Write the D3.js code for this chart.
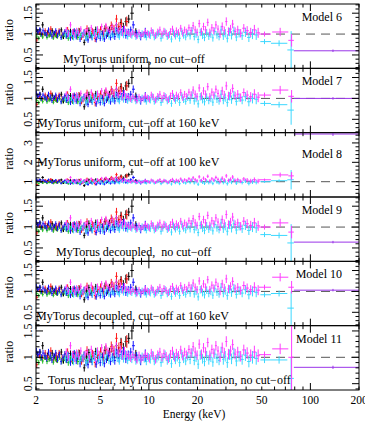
<!DOCTYPE html>
<html>
<head>
<meta charset="utf-8">
<script src="https://cdn.jsdelivr.net/npm/d3@7"></script>
<style>
  body { margin: 0; background: #fff; }
  text { font-family: "Liberation Serif", "Times New Roman", serif; fill: #000; }
</style>
</head>
<body>
<div id="chart"></div>
<script>
// Panel labels and captions
const models = ["Model 6", "Model 7", "Model 8", "Model 9", "Model 10", "Model 11"];
const captions = [
  "MyTorus uniform, no cut\u2212off",
  "MyTorus uniform, cut\u2212off at 160 keV",
  "MyTorus uniform, cut\u2212off at 100 keV",
  "MyTorus decoupled,  no cut\u2212off",
  "MyTorus decoupled, cut\u2212off at 160 keV",
  "Torus nuclear, MyTorus contamination, no cut\u2212off"
];
const yDomains = [[0.18, 1.72], [0.18, 1.72], [0.21, 3.53], [0.18, 1.72], [0.18, 1.72], [0.38, 1.6]];
const yTickLabels = [["0.5", "1", "1.5"], ["0.5", "1", "1.5"], ["1", "2", "3"], ["0.5", "1", "1.5"], ["0.5", "1", "1.5"], ["0.5", "1", "1.5"]];
const xTickLabels = [2, 5, 10, 20, 50, 100, 200];

// Residuals (energy keV, data/model ratio, 1-sigma error)
const blackE = [2.04,2.12,2.2,2.28,2.36,2.44,2.52,2.6,2.69,2.78,2.87,2.96,3.06,3.16,3.27,3.38,3.49,3.61,3.73,3.85,3.98,4.11,4.25,4.39,4.54,4.69,4.85,5.01,5.18,5.35,5.53,5.71,5.9,6.1,6.3,6.5,6.72,6.95,7.2,7.5,7.85,8.3];
const blackR = [1.06,1.1,1.22,1.0,1.04,0.98,1.08,1.02,0.96,1.05,1.1,0.94,1.03,0.99,1.07,0.93,1.04,1.0,1.08,0.97,0.8,1.02,1.09,0.96,1.04,1.11,0.98,1.06,1.02,1.13,1.0,1.1,1.17,1.06,1.22,1.12,1.28,1.18,1.3,1.36,1.5,1.04];
const blackErr = [0.05,0.05,0.07,0.05,0.05,0.05,0.06,0.05,0.06,0.05,0.06,0.06,0.05,0.06,0.06,0.06,0.07,0.06,0.06,0.06,0.07,0.06,0.07,0.06,0.07,0.07,0.07,0.07,0.07,0.08,0.07,0.08,0.08,0.08,0.09,0.08,0.09,0.09,0.1,0.1,0.16,0.1];

const redE = [2.02,2.1,2.19,2.28,2.37,2.47,2.57,2.67,2.78,2.9,3.02,3.14,3.27,3.4,3.54,3.68,3.83,3.98,4.14,4.3,4.47,4.65,4.83,5.02,5.22,5.42,5.63,5.85,6.08,6.3,6.52,6.75,7.0,7.3];
const redR = [0.86,1.04,0.98,1.08,1.0,1.12,0.95,1.03,1.07,0.97,1.02,1.1,0.92,1.05,1.0,1.08,0.94,1.03,1.13,0.98,1.06,0.9,1.04,1.1,0.97,1.15,1.05,1.2,1.12,1.36,1.18,1.25,1.1,1.3];
const redErr = [0.06,0.06,0.06,0.06,0.06,0.07,0.06,0.07,0.07,0.07,0.07,0.07,0.07,0.07,0.08,0.07,0.08,0.08,0.08,0.08,0.08,0.09,0.08,0.09,0.09,0.09,0.09,0.1,0.1,0.1,0.1,0.1,0.11,0.12];

const greenE = [2.02,2.08,2.14,2.2,2.27,2.34,2.41,2.48,2.56,2.64,2.72,2.8,2.89,2.98,3.07,3.17,3.27,3.38,3.5,3.63,3.78,3.95,4.15,4.4];
const greenR = [0.95,0.9,0.98,0.93,1.0,0.92,0.96,0.99,0.91,0.97,0.94,1.0,0.93,0.98,0.95,0.9,0.97,0.94,1.0,0.92,0.96,0.98,0.94,0.97];
const greenErr = [0.05,0.05,0.05,0.05,0.05,0.05,0.05,0.05,0.05,0.05,0.05,0.05,0.06,0.05,0.06,0.06,0.06,0.06,0.06,0.06,0.06,0.07,0.07,0.07];

const blueE = [2.01,2.06,2.11,2.16,2.21,2.27,2.33,2.39,2.45,2.51,2.58,2.65,2.72,2.79,2.86,2.94,3.02,3.1,3.18,3.27,3.36,3.45,3.55,3.65,3.75,3.86,3.97,4.08,4.2,4.32,4.45,4.58,4.72,4.86,5.0,5.15,5.3,5.46,5.62,5.79,5.97,6.15,6.34,6.54,6.75,6.97,7.2,7.45,7.72,8.0,8.4,8.9,9.5];
const blueR = [1.12,1.05,1.1,1.0,1.08,1.03,0.98,1.1,1.04,0.95,1.02,1.08,0.97,1.05,0.92,1.0,1.06,0.95,1.03,0.9,1.0,1.07,0.94,1.02,0.88,0.98,1.04,0.9,0.86,0.97,0.92,1.02,0.87,0.95,0.9,1.0,0.88,0.96,1.04,0.92,1.0,0.94,1.08,0.98,1.05,1.12,0.97,1.05,1.1,1.22,1.0,0.95,1.03];
const blueErr = [0.06,0.06,0.06,0.06,0.06,0.06,0.06,0.06,0.06,0.06,0.06,0.06,0.06,0.06,0.06,0.06,0.06,0.06,0.06,0.06,0.07,0.07,0.07,0.07,0.07,0.07,0.07,0.07,0.07,0.07,0.07,0.07,0.07,0.07,0.07,0.07,0.07,0.07,0.07,0.07,0.08,0.08,0.08,0.08,0.08,0.08,0.08,0.08,0.08,0.09,0.1,0.1,0.12];

const cyanE = [3.04,3.13,3.22,3.32,3.42,3.52,3.63,3.74,3.85,3.97,4.09,4.21,4.34,4.47,4.6,4.74,4.88,5.03,5.18,5.34,5.5,5.66,5.83,6.01,6.19,6.37,6.56,6.76,6.96,7.17,7.39,7.61,7.84,8.07,8.31,8.56,8.82,9.08,9.36,9.64,9.93,10.2,10.5,10.8,11.2,11.5,11.9,12.2,12.6,13.0,13.4,13.8,14.2,14.6,15.0,15.5,16.0,16.4,16.9,17.4,18.0,18.5,19.1,19.6,20.2,20.8,21.5,22.1,22.8,23.5,24.2,24.9,25.6,26.4,27.2,28.0,28.9,29.7,30.6,31.6,32.5,33.6,34.8,36.2,37.8,39.6,41.6,43.8,46.2];
const cyanR = [0.98,1.04,0.95,1.02,0.92,1.0,1.06,0.94,0.99,1.03,0.9,0.97,1.04,0.93,1.0,1.08,0.96,1.02,0.91,0.98,1.05,0.94,1.0,0.96,1.1,0.98,0.93,1.02,0.97,1.06,0.94,1.0,0.96,1.03,0.93,0.99,0.95,1.02,0.97,0.92,1.0,0.96,1.04,0.93,0.98,1.02,0.9,0.97,1.05,0.94,0.99,0.88,1.03,0.95,1.0,0.9,1.06,0.97,0.93,1.02,0.96,1.08,0.94,1.0,0.87,1.04,0.97,0.92,1.03,0.95,1.0,0.91,1.06,0.98,0.94,1.1,0.96,1.02,0.9,1.05,0.97,1.08,0.93,1.02,0.96,1.04,0.92,1.0,0.98];
const cyanErr = [0.07,0.07,0.07,0.07,0.07,0.07,0.07,0.07,0.07,0.07,0.07,0.07,0.07,0.07,0.07,0.07,0.07,0.07,0.07,0.07,0.07,0.07,0.07,0.07,0.07,0.07,0.07,0.07,0.07,0.07,0.07,0.07,0.07,0.07,0.07,0.07,0.07,0.07,0.07,0.07,0.08,0.08,0.08,0.08,0.08,0.08,0.08,0.08,0.08,0.08,0.08,0.08,0.08,0.08,0.08,0.08,0.08,0.08,0.08,0.08,0.09,0.09,0.09,0.09,0.09,0.09,0.09,0.09,0.09,0.09,0.09,0.09,0.09,0.09,0.09,0.1,0.1,0.1,0.1,0.1,0.1,0.1,0.1,0.1,0.1,0.11,0.11,0.12,0.12];

const magE = [3.08,3.17,3.27,3.37,3.47,3.57,3.68,3.79,3.91,4.03,4.15,4.27,4.4,4.53,4.67,4.81,4.95,5.1,5.26,5.42,5.58,5.74,5.92,6.1,6.28,6.46,6.66,6.86,7.06,7.28,7.5,7.72,7.95,8.19,8.44,8.69,8.95,9.22,9.5,9.78,10.07,10.35,10.65,11.0,11.35,11.7,12.05,12.4,12.8,13.2,13.6,14.0,14.4,14.8,15.25,15.75,16.2,16.65,17.15,17.7,18.25,18.8,19.35,19.9,20.5,21.15,21.8,22.45,23.15,23.85,24.55,25.25,26.0,26.8,27.6,28.45,29.3,30.15,31.1,32.05,33.0,34.2,35.5,37.0,38.7,40.6,42.7,45.0,47.5];
const magR = [1.1,1.0,1.22,1.05,0.98,1.08,1.02,1.12,0.97,1.06,1.1,1.0,1.15,1.05,0.96,1.12,1.04,1.18,1.08,1.2,1.12,1.06,1.18,1.1,1.22,1.08,1.15,1.02,1.12,1.05,1.02,0.98,1.05,1.0,0.95,1.04,0.97,1.0,1.06,1.02,0.98,1.08,1.03,0.96,1.05,1.1,1.0,1.07,1.02,0.97,1.06,1.12,1.0,1.08,1.04,1.14,1.02,1.1,1.05,1.15,1.08,1.2,1.1,1.04,1.25,1.06,1.18,1.1,1.28,1.04,1.15,1.08,1.22,1.12,1.0,1.18,1.08,1.3,1.06,1.12,1.24,1.06,1.1,1.02,1.14,1.08,1.04,1.1,1.03];
const magErr = cyanErr;

// High-energy bins that differ from model to model
const tailE = [52, 52, 64, 65, 76, 76.5, 138];
const tailLo = [49, 48, 57, 58, 72, 73, 79];
const tailHi = [57, 57, 72, 73, 79, 79, 240];
const tailColor = ["cyan", "mag", "cyan", "mag", "cyan", "mag", "purple"];
const tailR = [
  [0.82, 1.0, 0.78, 1.05, 0.62, 0.85, 0.6],
  [0.88, 1.08, 0.85, 1.2, 0.72, 1.05, 1.0],
  [1.0, 1.1, 1.05, 1.35, 1.1, 1.3, 3.46],
  [0.82, 1.0, 0.8, 1.1, 0.62, 0.88, 0.64],
  [0.92, 1.1, 0.95, 1.34, 0.6, 1.1, 1.03],
  [0.95, 1.05, 0.95, 1.16, 0.6, 1.0, 0.81]
];
const tailErr = [
  [0.06, 0.06, 0.07, 0.1, 0.45, 0.15, 0.03],
  [0.06, 0.06, 0.07, 0.1, 0.35, 0.15, 0.03],
  [0.06, 0.06, 0.07, 0.12, 0.5, 0.2, 0.1],
  [0.06, 0.06, 0.07, 0.1, 0.45, 0.15, 0.03],
  [0.06, 0.06, 0.07, 0.1, 0.4, 0.15, 0.03],
  [0.06, 0.06, 0.07, 0.1, 0.4, 0.8, 0.03]
];

const colors = {
  black: "#000000", red: "#ff1a1a", green: "#1fbf1f", blue: "#1414ff",
  cyan: "#3cd8ff", mag: "#ff3cff", purple: "#9a35e8"
};

const series = [
  {c: "black", E: blackE, R: blackR, err: blackErr},
  {c: "red", E: redE, R: redR, err: redErr},
  {c: "green", E: greenE, R: greenR, err: greenErr},
  {c: "blue", E: blueE, R: blueR, err: blueErr},
  {c: "cyan", E: cyanE, R: cyanR, err: cyanErr},
  {c: "mag", E: magE, R: magR, err: magErr}
];

const width = 365, height = 421;
const left = 36, right = 359, top0 = 4, bottom = 390;
const panelH = (bottom - top0) / models.length;

const svg = d3.select("#chart").append("svg")
  .attr("width", width)
  .attr("height", height);

const x = d3.scaleLog().domain([2, 200]).range([left, right]);

// minor tick values along energy
const xMinor = [];
[1, 10, 100].forEach(dec => d3.range(1, 10).forEach(k => {
  const v = k * dec;
  if (v >= 2 && v <= 200) xMinor.push(v);
}));

models.forEach((name, i) => {
  const top = top0 + i * panelH;
  const bot = top + panelH;
  const y = d3.scaleLinear().domain(yDomains[i]).range([bot, top]);
  const g = svg.append("g");

  g.append("clipPath").attr("id", "clip" + i)
    .append("rect").attr("x", left).attr("y", top).attr("width", right - left).attr("height", panelH);

  // dashed unity line
  g.append("line")
    .attr("x1", left).attr("x2", right)
    .attr("y1", y(1)).attr("y2", y(1))
    .attr("stroke", "#555").attr("stroke-width", 1)
    .attr("stroke-dasharray", "9,6");

  const data = g.append("g").attr("clip-path", `url(#clip${i})`);

  const drawBars = (pts, color) => {
    let d = "";
    pts.forEach(p => {
      d += `M${x(p.lo)},${y(p.r)}H${x(p.hi)}M${x(p.e)},${y(p.r - p.err)}V${y(p.r + p.err)}`;
    });
    data.append("path").attr("d", d)
      .attr("fill", "none").attr("stroke", color).attr("stroke-width", 1);
  };

  series.forEach(s => {
    const pts = s.E.map((e, j) => {
      const prev = j > 0 ? s.E[j - 1] : e * e / s.E[j + 1];
      const next = j < s.E.length - 1 ? s.E[j + 1] : e * e / s.E[j - 1];
      return {e, lo: Math.sqrt(prev * e), hi: Math.sqrt(e * next), r: s.R[j], err: s.err[j]};
    });
    drawBars(pts, colors[s.c]);
  });

  tailE.forEach((e, j) => {
    drawBars([{e, lo: tailLo[j], hi: tailHi[j], r: tailR[i][j], err: tailErr[i][j]}], colors[tailColor[j]]);
  });

  // frame
  g.append("rect")
    .attr("x", left).attr("y", top)
    .attr("width", right - left).attr("height", panelH)
    .attr("fill", "none").attr("stroke", "#000").attr("stroke-width", 1);

  // x ticks, inward on top and bottom
  xMinor.forEach(v => {
    const len = (v === 10 || v === 100) ? 7 : 3.5;
    g.append("line").attr("x1", x(v)).attr("x2", x(v)).attr("y1", bot).attr("y2", bot - len).attr("stroke", "#000");
    g.append("line").attr("x1", x(v)).attr("x2", x(v)).attr("y1", top).attr("y2", top + len).attr("stroke", "#000");
  });

  // y ticks
  const majors = yTickLabels[i].map(Number);
  const step = majors[1] - majors[0];
  const minorStep = step / 5;
  const [y0, y1] = yDomains[i];
  for (let v = Math.ceil(y0 / minorStep) * minorStep; v <= y1 + 1e-9; v += minorStep) {
    const isMajor = majors.some(m => Math.abs(m - v) < 1e-6);
    const len = isMajor ? 7 : 3.5;
    g.append("line").attr("x1", left).attr("x2", left + len).attr("y1", y(v)).attr("y2", y(v)).attr("stroke", "#000");
    g.append("line").attr("x1", right).attr("x2", right - len).attr("y1", y(v)).attr("y2", y(v)).attr("stroke", "#000");
  }

  yTickLabels[i].forEach(t => {
    g.append("text")
      .attr("transform", `translate(32,${y(+t)}) rotate(-90)`)
      .attr("text-anchor", "middle")
      .style("font-size", "12px")
      .text(t);
  });

  g.append("text")
    .attr("transform", `translate(13,${top + 26}) rotate(-90)`)
    .attr("text-anchor", "middle")
    .style("font-size", "12px")
    .text("ratio");

  g.append("text")
    .attr("x", 342).attr("y", top + (i === 2 ? 25 : 17))
    .attr("text-anchor", "end")
    .style("font-size", "12px")
    .text(name);

  const capX = [63, 37, 37, 56, 36, 48];
  g.append("text")
    .attr("x", capX[i]).attr("y", top + (i === 2 ? 33.5 : 58.5))
    .style("font-size", "12px")
    .style("white-space", "pre")
    .text(captions[i]);
});

// bottom axis labels
xTickLabels.forEach(v => {
  svg.append("text")
    .attr("x", x(v)).attr("y", 403.5)
    .attr("text-anchor", "middle")
    .style("font-size", "11.5px")
    .text(v);
});

svg.append("text")
  .attr("x", 194).attr("y", 418)
  .attr("text-anchor", "middle")
  .style("font-size", "11.5px")
  .text("Energy (keV)");
</script>
</body>
</html>
